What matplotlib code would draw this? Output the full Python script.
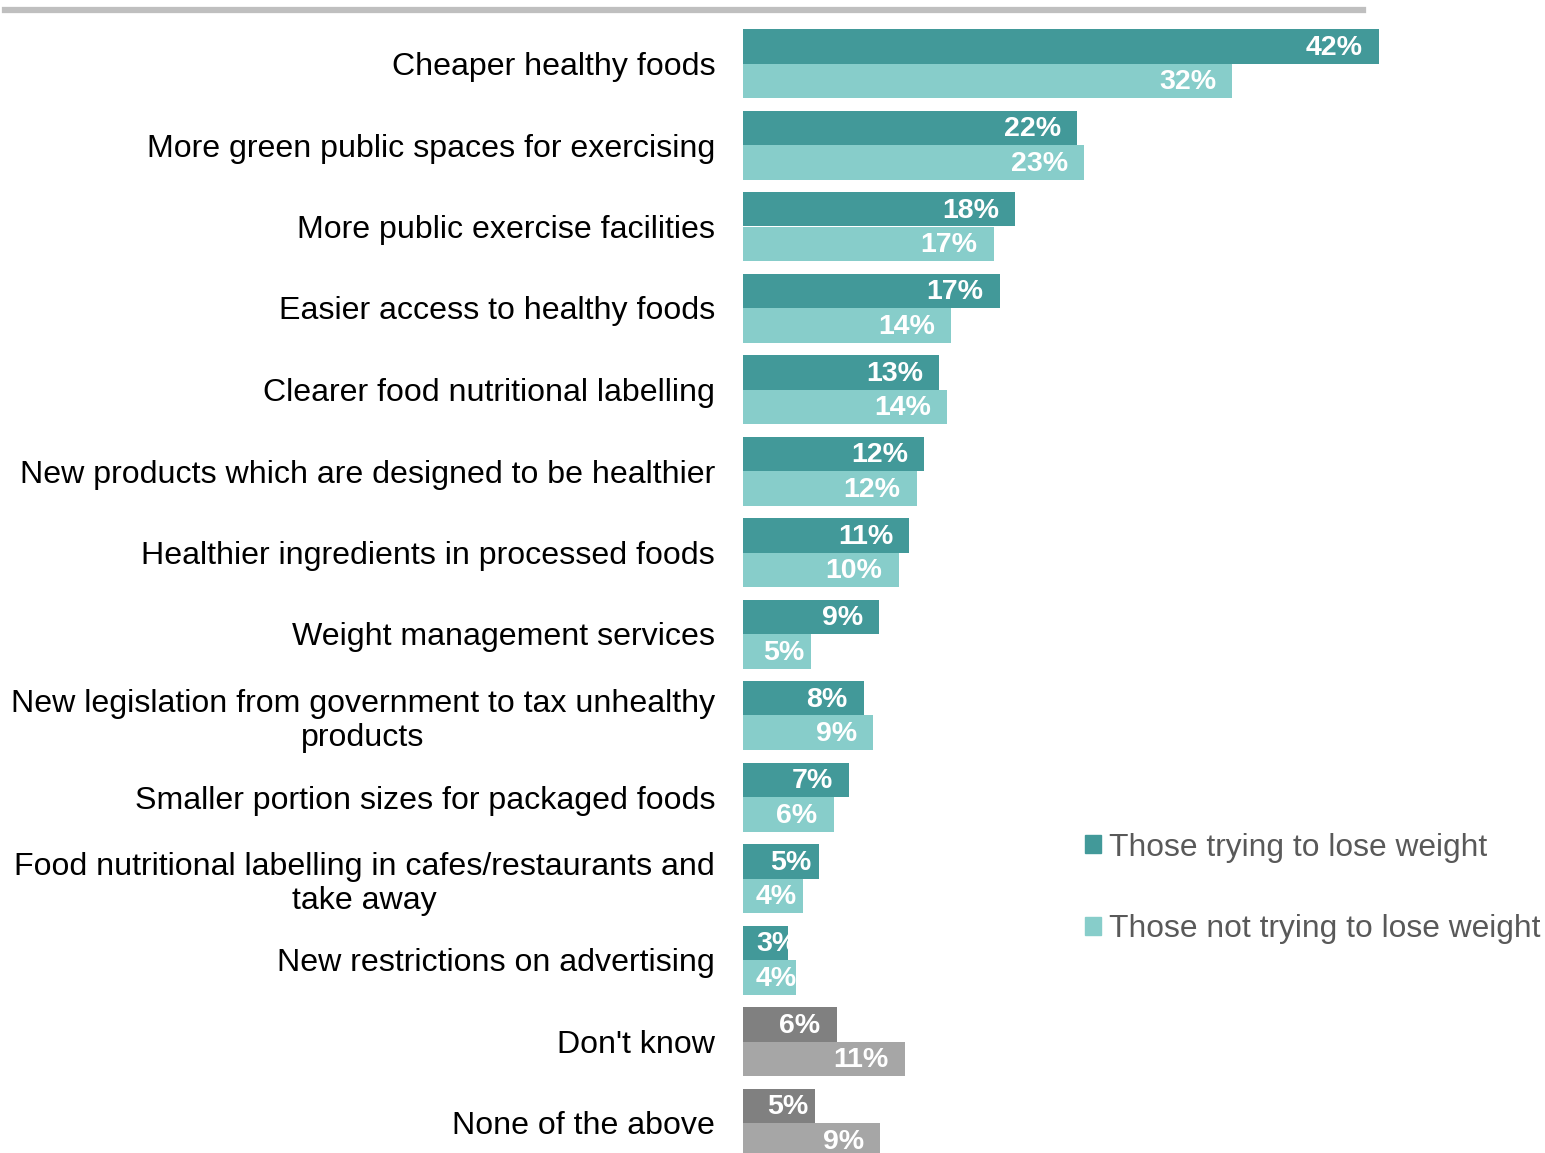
import matplotlib
matplotlib.use("Agg")
import matplotlib.pyplot as plt
from matplotlib.patches import Patch
from matplotlib.lines import Line2D
import numpy as np

plt.rcParams['font.family'] = ['Liberation Sans', 'DejaVu Sans']

categories = [
    "Cheaper healthy foods",
    "More green public spaces for exercising",
    "More public exercise facilities",
    "Easier access to healthy foods",
    "Clearer food nutritional labelling",
    "New products which are designed to be healthier",
    "Healthier ingredients in processed foods",
    "Weight management services",
    "New legislation from government to tax unhealthy\nproducts",
    "Smaller portion sizes for packaged foods",
    "Food nutritional labelling in cafes/restaurants and\ntake away",
    "New restrictions on advertising",
    "Don't know",
    "None of the above",
]
# bar lengths (labels are the rounded values)
trying = [42.1, 22.1, 18.0, 17.0, 13.0, 12.0, 11.0, 9.0, 8.0, 7.0, 5.0, 3.0, 6.2, 4.8]
not_trying = [32.4, 22.6, 16.6, 13.8, 13.5, 11.5, 10.3, 4.5, 8.6, 6.0, 4.0, 3.5, 10.7, 9.1]
trying_labels = ["42%", "22%", "18%", "17%", "13%", "12%", "11%", "9%", "8%", "7%", "5%", "3%", "6%", "5%"]
not_trying_labels = ["32%", "23%", "17%", "14%", "14%", "12%", "10%", "5%", "9%", "6%", "4%", "4%", "11%", "9%"]
series_names = ["Those trying to lose weight", "Those not trying to lose weight"]

dark_teal = "#429999"
light_teal = "#87CDCA"
dark_gray = "#808080"
light_gray = "#A6A6A6"
n_gray = 2  # last two rows drawn in gray

W, H = 1545, 1153
fig = plt.figure(figsize=(W / 100, H / 100), dpi=100)
px_per_unit = 15.1
xmax = 45
ax = fig.add_axes([743 / W, 0, xmax * px_per_unit / W, 1])

n = len(categories)
y = np.arange(n)
h = 34.5 / 81.5
c1 = [dark_teal] * (n - n_gray) + [dark_gray] * n_gray
c2 = [light_teal] * (n - n_gray) + [light_gray] * n_gray
bars1 = ax.barh(y - h / 2, trying, height=h, color=c1, linewidth=0)
bars2 = ax.barh(y + h / 2, not_trying, height=h, color=c2, linewidth=0)

ax.set_xlim(0, xmax)
ax.set_ylim((H - 63.5) / 81.5, -63.5 / 81.5)
ax.set_yticks(y)
ax.set_yticklabels(categories, fontsize=23.1)
for t in ax.get_yticklabels():
    t.set_multialignment('center')
    t.set_linespacing(1.18)
ax.tick_params(axis='y', length=0, pad=20)
ax.set_xticks([])
for s in ax.spines.values():
    s.set_visible(False)

# value labels inside the bar ends
for bars, vals, labs in ((bars1, trying, trying_labels), (bars2, not_trying, not_trying_labels)):
    for bar, v, lab in zip(bars, vals, labs):
        yc = bar.get_y() + bar.get_height() / 2
        if v >= 6:
            t = ax.annotate(lab, (v, yc), xytext=(-16 * 0.72, -1.2), textcoords='offset points',
                            ha='right', va='center', color='white', fontsize=20.5, fontweight='bold')
        else:
            left_px = max(v * px_per_unit - 48, 13)
            t = ax.annotate(lab, (0, yc), xytext=(left_px * 0.72, -1.2), textcoords='offset points',
                            ha='left', va='center', color='white', fontsize=20.5, fontweight='bold')
        t.set_clip_on(True)
        t.set_clip_path(bar)

handles = [Patch(color=dark_teal), Patch(color=light_teal)]
leg = fig.legend(handles, series_names, loc='upper left', bbox_to_anchor=(1072 / W, 1 - 820 / H),
                 frameon=False, fontsize=22.9, handlelength=0.5, handleheight=0.5,
                 handletextpad=0.25, labelspacing=1.62, borderaxespad=0)
for t in leg.get_texts():
    t.set_color("#595959")

fig.add_artist(Line2D([5 / W, 1363 / W], [1 - 10 / H, 1 - 10 / H], color="#BFBFBF", lw=4.5))

fig.savefig("out.png", dpi=100)
